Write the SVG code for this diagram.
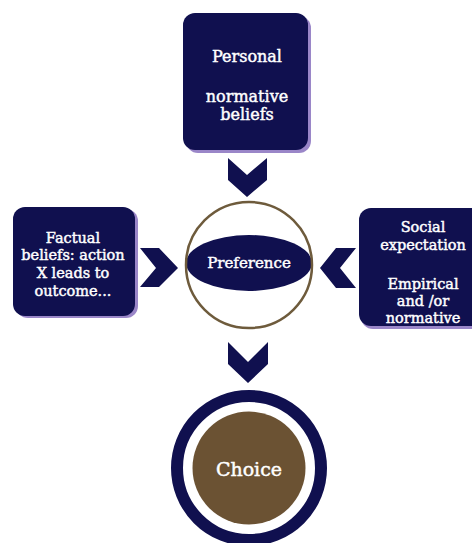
<svg xmlns="http://www.w3.org/2000/svg" width="472" height="543" viewBox="0 0 472 543">
<style>
.box{fill:#10104f}
.shadow{fill:#9a86c8}
.chev{fill:#10104f}
.t{font-family:"DejaVu Serif","Liberation Serif",serif;fill:#ffffff;stroke:#ffffff;stroke-width:0.45;text-anchor:middle}
</style>
<rect width="472" height="543" fill="#ffffff"/>
<g id="personal">
<rect class="shadow" x="186" y="16" width="125" height="137" rx="12"/>
<rect class="box" x="183" y="13" width="125" height="137" rx="12"/>
<text class="t" font-size="16" x="247" y="62">Personal</text>
<text class="t" font-size="16" x="247" y="102">normative</text>
<text class="t" font-size="16" x="247" y="120">beliefs</text>
</g>
<g id="factual">
<rect class="shadow" x="16" y="209" width="122" height="109" rx="12"/>
<rect class="box" x="13" y="207" width="122" height="109" rx="12"/>
<text class="t" font-size="14.5" x="73" y="243">Factual</text>
<text class="t" font-size="14.5" x="73" y="260">beliefs: action</text>
<text class="t" font-size="14.5" x="73" y="278">X leads to</text>
<text class="t" font-size="14.5" x="73" y="296">outcome...</text>
</g>
<g id="social">
<rect class="shadow" x="361" y="210" width="125" height="119" rx="12"/>
<rect class="box" x="359" y="208" width="125" height="118" rx="12"/>
<text class="t" font-size="14.5" x="423" y="232">Social</text>
<text class="t" font-size="14.5" x="423" y="250">expectation</text>
<text class="t" font-size="14.5" x="423" y="289">Empirical</text>
<text class="t" font-size="14.5" x="423" y="306">and /or</text>
<text class="t" font-size="14.5" x="423" y="323">normative</text>
</g>
<g id="preference">
<ellipse cx="249" cy="263" rx="63" ry="28" fill="#10104f"/>
<circle cx="249" cy="265" r="63" fill="none" stroke="#6e5b3c" stroke-width="2.5"/>
<text class="t" font-size="15" x="249" y="268">Preference</text>
</g>
<g id="choice">
<circle cx="249" cy="468" r="72" fill="none" stroke="#10104f" stroke-width="12"/>
<circle cx="249" cy="468" r="56.5" fill="#6b5233"/>
<text class="t" font-size="19" x="249" y="476">Choice</text>
</g>
<g id="connectors">
<polygon class="chev" points="228,158 247,175 267,158 267,180 247,197 228,180"/>
<polygon class="chev" points="140,248 159,248 178,268 159,287 140,287 156,268"/>
<polygon class="chev" points="356,248 336,248 320,268 336,288 356,288 340,268"/>
<polygon class="chev" points="228,342 248,362 268,342 268,364 248,383 228,364"/>
</g>
</svg>
